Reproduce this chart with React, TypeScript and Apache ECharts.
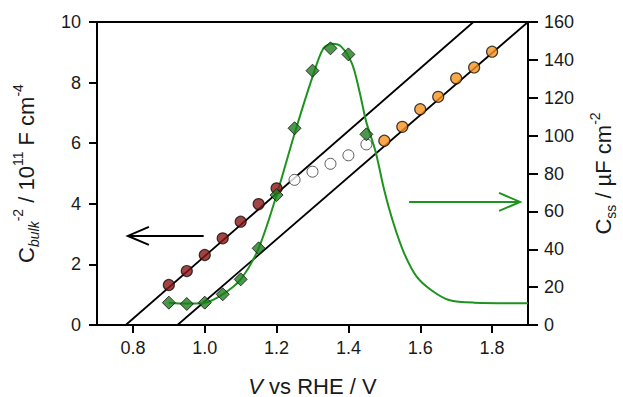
import React, { useEffect, useRef } from "react";
import * as echarts from "echarts";

// Potential axis (V vs RHE)
const xTicks = [0.8, 1.0, 1.2, 1.4, 1.6, 1.8];

// Mott–Schottky data, C_bulk^-2 / 1e11 F^-2 cm^4 (left axis)
const redX = [0.9, 0.95, 1.0, 1.05, 1.1, 1.15, 1.2];
const redY = [1.32, 1.78, 2.31, 2.86, 3.41, 3.99, 4.51];
const openX = [1.25, 1.3, 1.35, 1.4, 1.45];
const openY = [4.79, 5.06, 5.32, 5.6, 5.96];
const orangeX = [1.5, 1.55, 1.6, 1.65, 1.7, 1.75, 1.8];
const orangeY = [6.08, 6.54, 7.12, 7.53, 8.14, 8.5, 9.02];

// Linear fits (left axis)
const fit1X = [0.78, 1.748];
const fit1Y = [0, 10];
const fit2X = [0.924, 1.9];
const fit2Y = [0, 10];

// Surface-state capacitance C_ss / uF cm^-2 (right axis)
const cssX = [0.9, 0.95, 1.0, 1.05, 1.1, 1.15, 1.2, 1.25, 1.3, 1.35, 1.4, 1.45];
const cssY = [11.8, 11.1, 11.8, 16.2, 24.1, 40.5, 68.6, 103.9, 134.3, 146.1, 142.9, 100.7];

// Fitted C_ss curve (right axis)
const curveX = [0.9, 0.95, 1.0, 1.05, 1.1, 1.15, 1.2, 1.25, 1.3, 1.33, 1.355, 1.38, 1.41, 1.43, 1.45, 1.475, 1.5, 1.525, 1.555, 1.59, 1.63, 1.68, 1.75, 1.9];
const curveY = [11.8, 11.3, 11.8, 16.2, 24.1, 40.5, 68.6, 101, 131, 146, 148.5, 147, 138, 124, 107, 92, 71, 54, 38, 25.5, 18.5, 13.2, 11.8, 11.5];

// Annotation arrows: [xStart, xTip, y] on their axis
const leftArrow = [0.997, 0.786, 2.94];
const rightArrow = [1.569, 1.878, 65];

const zip = (xs: number[], ys: number[]) => xs.map((x, i) => [x, ys[i]]);

const FONT = "Liberation Sans, Arial, sans-serif";

export default function App() {
  const ref = useRef<HTMLDivElement>(null);
  useEffect(() => {
    document.body.style.margin = "0";
    if (!ref.current) return;
    const chart = echarts.init(ref.current, null, { renderer: "svg" });
    const arrowRender = (color: string) => (params: any, api: any) => {
      const p0 = api.coord([api.value(0), api.value(2)]);
      const p1 = api.coord([api.value(1), api.value(2)]);
      const dir = p0[0] > p1[0] ? 1 : -1;
      return {
        type: "group",
        children: [
          { type: "line", shape: { x1: p0[0], y1: p0[1], x2: p1[0], y2: p1[1] }, style: { stroke: color, lineWidth: 2 } },
          {
            type: "polyline",
            shape: { points: [[p1[0] + dir * 21, p1[1] - 9], [p1[0], p1[1]], [p1[0] + dir * 21, p1[1] + 9]] },
            style: { stroke: color, fill: null, lineWidth: 2 },
          },
        ],
      };
    };
    const tickLabel = { fontFamily: FONT, fontSize: 18, color: "#1a1a1a" };
    const nameRich = {
      b: { fontFamily: FONT, fontSize: 22, color: "#1a1a1a", lineHeight: 30 },
      i: { fontFamily: FONT, fontSize: 22, color: "#1a1a1a", lineHeight: 30, fontStyle: "italic" },
      sub: { fontFamily: FONT, fontSize: 14, color: "#1a1a1a", lineHeight: 16, fontStyle: "italic", verticalAlign: "bottom" },
      subn: { fontFamily: FONT, fontSize: 14, color: "#1a1a1a", lineHeight: 16, verticalAlign: "bottom" },
      sup: { fontFamily: FONT, fontSize: 14, color: "#1a1a1a", lineHeight: 16, verticalAlign: "top" },
    };
    chart.setOption({
      animation: false,
      grid: {
        left: 97, right: 95, top: 22, bottom: 72,
        outerBoundsMode: "none", containLabel: false,
        show: true, borderColor: "#000", borderWidth: 2, backgroundColor: "transparent",
      },
      xAxis: {
        type: "value",
        min: 0.7,
        max: 1.9,
        splitLine: { show: false },
        axisLine: { lineStyle: { color: "#000", width: 2 } },
        axisTick: { show: true, length: 8, inside: false, lineStyle: { color: "#000", width: 2 }, customValues: xTicks },
        axisLabel: { ...tickLabel, margin: 14, customValues: xTicks, formatter: (v: number) => v.toFixed(1) },
        name: "{i|V}{b| vs RHE / V}",
        nameLocation: "middle",
        nameGap: 46,
        nameTextStyle: { rich: nameRich },
      },
      yAxis: [
        {
          type: "value",
          min: 0,
          max: 10,
          interval: 2,
          position: "left",
          splitLine: { show: false },
          axisLine: { show: true, lineStyle: { color: "#000", width: 2 } },
          axisTick: { show: true, length: 8, lineStyle: { color: "#000", width: 2 } },
          axisLabel: { ...tickLabel, margin: 16 },
          name: "{b|C}{sub|bulk}{sup|-2}{b| / 10}{sup|11}{b| F cm}{sup|-4}",
          nameLocation: "middle",
          nameRotate: 90,
          nameGap: 56,
          nameTextStyle: { rich: nameRich },
        },
        {
          type: "value",
          min: 0,
          max: 160,
          interval: 20,
          position: "right",
          splitLine: { show: false },
          axisLine: { show: true, lineStyle: { color: "#000", width: 2 } },
          axisTick: { show: true, length: 10, lineStyle: { color: "#000", width: 2 } },
          axisLabel: { ...tickLabel, margin: 16 },
          name: "{b|C}{subn|ss}{b| / µF cm}{sup|-2}",
          nameLocation: "middle",
          nameRotate: 90,
          nameGap: 60,
          nameTextStyle: { rich: nameRich },
        },
      ],
      series: [
        { type: "line", data: zip(fit1X, fit1Y), symbol: "none", lineStyle: { color: "#000", width: 1.8 }, z: 2 },
        { type: "line", data: zip(fit2X, fit2Y), symbol: "none", lineStyle: { color: "#000", width: 1.8 }, z: 2 },
        { type: "line", yAxisIndex: 1, data: zip(curveX, curveY), smooth: 0.3, symbol: "none", lineStyle: { color: "#1f931f", width: 2 }, z: 3 },
        {
          type: "scatter", data: zip(openX, openY), symbol: "circle", symbolSize: 11,
          itemStyle: { color: "#fff", borderColor: "#333", borderWidth: 1 }, z: 4,
        },
        {
          type: "scatter", data: zip(redX, redY), symbol: "circle", symbolSize: 11,
          itemStyle: { color: "#8c1515", borderColor: "#111", borderWidth: 1.2 }, z: 5,
        },
        {
          type: "scatter", data: zip(orangeX, orangeY), symbol: "circle", symbolSize: 11,
          itemStyle: { color: "#f7931e", borderColor: "#111", borderWidth: 1.2 }, z: 5,
        },
        {
          type: "scatter", yAxisIndex: 1, data: zip(cssX, cssY), symbol: "diamond", symbolSize: [13, 13],
          itemStyle: { color: "#1e7d1e", borderColor: "#111", borderWidth: 1 }, z: 6,
        },
        { type: "custom", data: [leftArrow], renderItem: arrowRender("#000"), clip: false, z: 7 },
        { type: "custom", yAxisIndex: 1, data: [rightArrow], renderItem: arrowRender("#1f931f"), clip: false, z: 7 },
      ],
    });
    return () => chart.dispose();
  }, []);
  return <div ref={ref} style={{ width: 623, height: 397 }} />;
}
